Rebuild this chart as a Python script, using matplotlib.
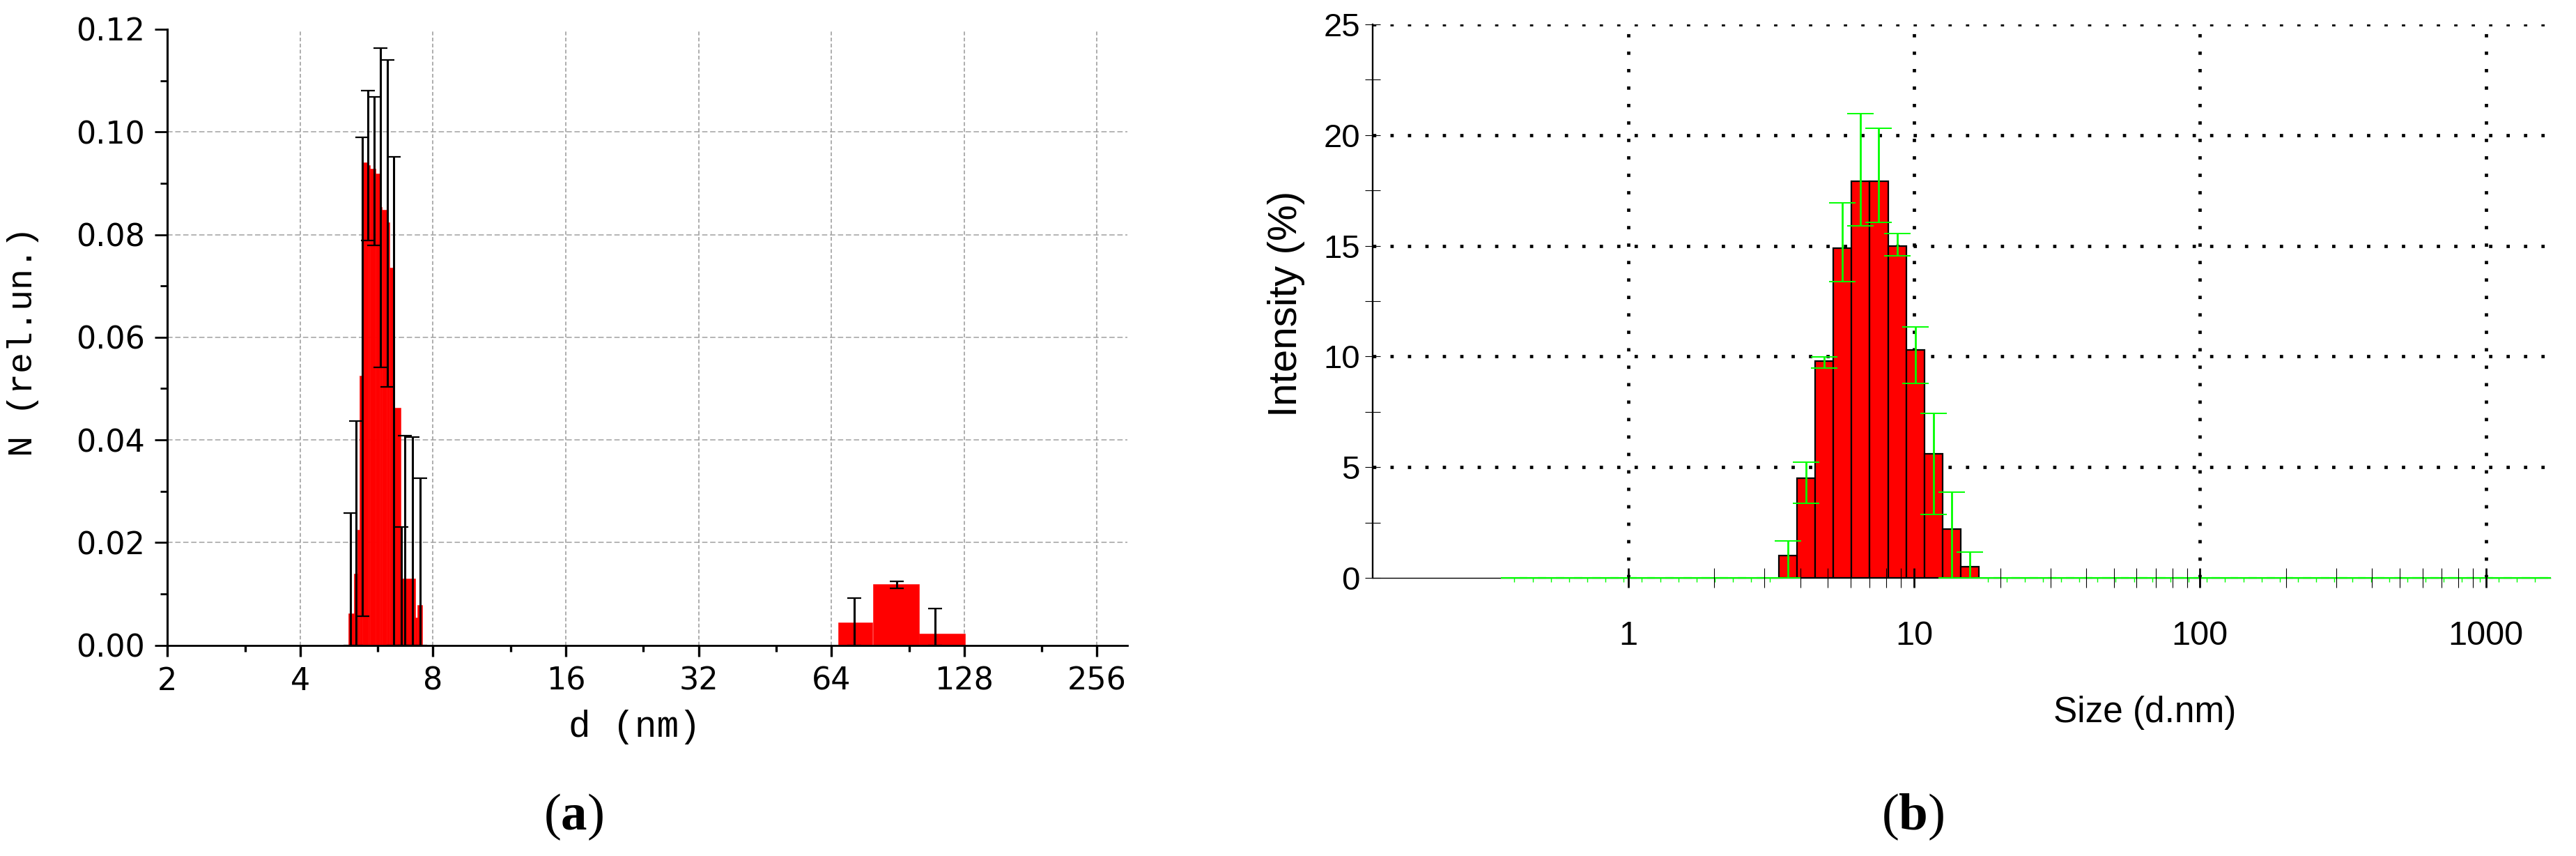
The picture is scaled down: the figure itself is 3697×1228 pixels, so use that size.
"""Two-panel size distribution: (a) number distribution, (b) DLS intensity."""
import numpy as np
import matplotlib
matplotlib.use("Agg")
import matplotlib.pyplot as plt
from matplotlib import font_manager
from matplotlib.patches import Rectangle
from matplotlib.ticker import (FixedLocator, NullFormatter, MultipleLocator,
                               FormatStrFormatter)

# ---- panel (a): number distribution (bars as drawn, edges in nm) ----
bar_left_a = [5.14, 5.30, 5.39, 5.45, 5.53, 5.72, 5.77, 5.93, 6.06, 6.12,
              6.28, 6.38, 6.52, 6.75, 6.79, 7.29, 7.38, 66.3, 79.7, 101.3]
bar_right_a = [5.30, 5.39, 5.45, 5.53, 5.72, 5.77, 5.93, 6.06, 6.12, 6.28,
               6.38, 6.52, 6.75, 6.79, 7.29, 7.38, 7.58, 79.2, 101.3, 128.4]
bar_n_a = [0.0062, 0.0139, 0.0225, 0.0525, 0.0941, 0.0935, 0.0929, 0.0919,
           0.0854, 0.0848, 0.0824, 0.0736, 0.0462, 0.0231, 0.0130, 0.0054,
           0.0078, 0.00438, 0.0119, 0.00233]
err_d_a = [5.21, 5.36, 5.53, 5.70, 5.89, 6.09, 6.30, 6.52, 6.78, 6.90, 7.18,
           7.48, 72.0, 89.9, 110.0]
err_low_a = [0.0, 0.0, 0.0056, 0.0788, 0.0779, 0.0542, 0.0504, 0.0, 0.0, 0.0,
             0.0, 0.0, 0.0, 0.0111, 0.0]
err_high_a = [0.0258, 0.0437, 0.0990, 0.1080, 0.1068, 0.1164, 0.1140, 0.0951,
              0.0231, 0.0408, 0.0405, 0.0325, 0.00922, 0.01247, 0.00712]
xticks_a = [2, 4, 8, 16, 32, 64, 128, 256]
yticks_a = [0.00, 0.02, 0.04, 0.06, 0.08, 0.10, 0.12]

# ---- panel (b): intensity distribution (Zetasizer size classes) ----
size_b = [3.615, 4.187, 4.849, 5.615, 6.503, 7.531, 8.721, 10.1, 11.7,
          13.54, 15.69]
intensity_b = [1.0, 4.5, 9.8, 14.9, 17.9, 17.9, 15.0, 10.3, 5.6, 2.2, 0.5]
err_low_b = [0.0, 3.37, 9.47, 13.38, 15.9, 16.07, 14.54, 8.78, 2.87, 0.0, 0.0]
err_high_b = [1.68, 5.24, 9.97, 16.93, 20.97, 20.3, 15.56, 11.34, 7.43, 3.87,
              1.18]
empty_b = [0.4, 0.4632, 0.5365, 0.6213, 0.7195, 0.8332, 0.9649, 1.117, 1.294,
           1.499, 1.736, 2.01, 2.328, 2.696, 3.122, 18.17, 21.04, 24.36, 28.21,
           32.67, 37.84, 43.82, 50.75, 58.77, 68.06, 78.82, 91.28, 105.7, 122.4,
           141.8, 164.2, 190.1, 220.2, 255.0, 295.3, 342.0, 396.1, 458.7, 531.2,
           615.1, 712.4, 825.0, 955.4, 1106, 1281, 1484, 1718]
xticks_b = [1, 10, 100, 1000]
yticks_b = [0, 5, 10, 15, 20, 25]

RED, GREEN, GRAY = "#ff0000", "#00ff00", "#a0a0a0"
DOTS = (0, (1, 4.3))


def pick(*names):
    for n in names:
        try:
            font_manager.findfont(n, fallback_to_default=False)
            return n
        except ValueError:
            continue
    return "DejaVu Sans"


NARROW = pick("Liberation Sans Narrow", "Liberation Sans")
plt.rcParams["mathtext.fontset"] = "custom"
plt.rcParams["mathtext.bf"] = "Liberation Serif:bold"
plt.rcParams["mathtext.rm"] = "Liberation Serif"

W, H = 3698, 1228
fig = plt.figure(figsize=(W / 200, H / 200), dpi=200, facecolor="white")

# ---------------- (a) ----------------
ax = fig.add_axes([240 / W, 1 - 925.7 / H, (1618 - 240) / W, (925.7 - 42) / H])
ax.set_xscale("log", base=2)
ax.set_xlim(2, 300)
ax.set_ylim(0, 0.12)
for v in yticks_a[1:-1]:
    ax.axhline(v, color=GRAY, lw=0.55, ls=(0, (5, 2.5)), zorder=0.5)
for v in xticks_a[1:]:
    ax.axvline(v, color=GRAY, lw=0.6, ls=(0, (3.2, 2)), zorder=0.5)
ax.bar(bar_left_a, bar_n_a, width=np.subtract(bar_right_a, bar_left_a),
       align="edge", color=RED, edgecolor=RED, linewidth=0.2, zorder=1)
ax.errorbar(err_d_a, err_low_a,
            yerr=[np.zeros(len(err_d_a)), np.subtract(err_high_a, err_low_a)],
            fmt="none", ecolor="black", elinewidth=1.1, capsize=3.6,
            capthick=0.8, zorder=3)
ax.xaxis.set_major_locator(FixedLocator(xticks_a))
ax.xaxis.set_minor_locator(FixedLocator([1.5 * t for t in xticks_a]))
ax.xaxis.set_minor_formatter(NullFormatter())
ax.set_xticklabels([str(t) for t in xticks_a])
ax.yaxis.set_major_locator(FixedLocator(yticks_a))
ax.yaxis.set_minor_locator(MultipleLocator(0.01))
ax.yaxis.set_major_formatter(FormatStrFormatter("%.2f"))
ax.tick_params(axis="x", which="major", direction="out", length=5.8, width=1.2,
               pad=5, labelsize=16)
ax.tick_params(axis="x", which="minor", direction="out", length=3.2, width=1.2)
ax.tick_params(axis="y", which="major", direction="out", length=6.5, width=1.0,
               pad=5, labelsize=16)
ax.tick_params(axis="y", which="minor", direction="out", length=3.6, width=1.0)
for side in ("top", "right"):
    ax.spines[side].set_visible(False)
ax.spines["left"].set_linewidth(1.1)
ax.spines["bottom"].set_linewidth(1.0)

# ---------------- (b) ----------------
bx = fig.add_axes([1970 / W, 1 - 829 / H, (3660 - 1970) / W, (829 - 35) / H])
bx.set_xscale("log")
bx.set_xlim(0.1277, 1680)
bx.set_ylim(0, 25)
for v in yticks_b[1:]:
    bx.axhline(v, color="black", lw=1.7, ls=DOTS, zorder=0.5)
for v in xticks_b:
    bx.axvline(v, color="black", lw=1.7, ls=DOTS, zorder=0.5)

half = np.sqrt(size_b[1] / size_b[0])
left_b = np.array(size_b) / half
bx.bar(left_b, intensity_b, width=np.array(size_b) * half - left_b,
       align="edge", color=RED, edgecolor="black", linewidth=0.8, zorder=2)

clip = Rectangle((0, -0.05), 1, 1.1, transform=bx.transAxes,
                 facecolor="none", edgecolor="none")
eb1 = bx.errorbar(size_b, err_low_b,
                  yerr=[np.zeros(len(size_b)), np.subtract(err_high_b, err_low_b)],
                  fmt="none", ecolor=GREEN, elinewidth=1.0, capsize=6.9,
                  capthick=0.7, zorder=3)
eb0 = bx.errorbar(empty_b, np.zeros(len(empty_b)), yerr=0, fmt="none",
                  ecolor=GREEN, elinewidth=0.5, capsize=6.9, capthick=0.75,
                  zorder=3)
ticks0 = bx.vlines(empty_b, -0.19, 0, color=GREEN, lw=0.5, zorder=3)
for art in eb1.get_children() + eb0.get_children() + [ticks0]:
    art.set_clip_path(clip)

bx.xaxis.set_major_locator(FixedLocator(xticks_b))
bx.set_xticklabels([str(t) for t in xticks_b])
bx.xaxis.set_minor_locator(FixedLocator(
    [m * 10 ** e for e in range(3) for m in range(2, 10)]))
bx.xaxis.set_minor_formatter(NullFormatter())
bx.yaxis.set_major_locator(FixedLocator(yticks_b))
bx.set_yticklabels([str(t) for t in yticks_b])
bx.yaxis.set_minor_locator(MultipleLocator(2.5))
bx.tick_params(axis="x", which="major", direction="inout", length=10,
               width=1.0, pad=17, labelsize=17.5, labelfontfamily=NARROW)
bx.tick_params(axis="x", which="minor", direction="inout", length=10,
               width=0.4)
bx.tick_params(axis="y", which="both", direction="inout", length=8, width=0.4,
               pad=2.5, labelsize=17, labelfontfamily="Liberation Sans")
bx.xaxis.set_zorder(3.5)
for side in ("top", "right"):
    bx.spines[side].set_visible(False)
bx.spines["left"].set_linewidth(0.85)
bx.spines["bottom"].set_linewidth(0.5)

# ---------------- labels ----------------
fig.text(0.0089, 0.601, "N (rel.un.)", rotation=90, ha="center", va="center",
         family="Liberation Mono", fontsize=18)
fig.text(0.2464, 0.151, "d (nm)", ha="center", va="center",
         family="Liberation Mono", fontsize=19)
fig.text(0.4992, 0.645, "Intensity (%)", rotation=90, ha="center",
         va="center", family="Liberation Sans", fontsize=21)
fig.text(0.8323, 0.167, "Size (d.nm)", ha="center", va="center",
         family=NARROW, fontsize=18.5)
fig.text(0.2225, 0.0456, r"($\mathbf{a}$)", ha="center", va="center",
         family="Liberation Serif", fontsize=27)
fig.text(0.7423, 0.0456, r"($\mathbf{b}$)", ha="center", va="center",
         family="Liberation Serif", fontsize=27)

fig.savefig("out.png", dpi=200, facecolor="white")
